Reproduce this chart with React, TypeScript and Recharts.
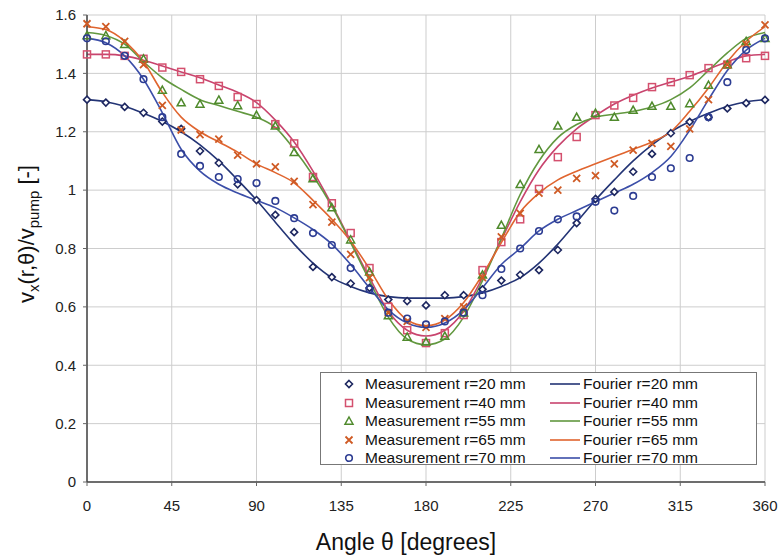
import React from 'react';
import { ComposedChart, Line, XAxis, YAxis, CartesianGrid, Legend } from 'recharts';

const font = '"Liberation Sans", Arial, sans-serif';

// angle in degrees, measurements every 10 deg
const angles = [0, 10, 20, 30, 40, 50, 60, 70, 80, 90, 100, 110, 120, 130, 140, 150, 160, 170, 180,
  190, 200, 210, 220, 230, 240, 250, 260, 270, 280, 290, 300, 310, 320, 330, 340, 350, 360];

const xTicks = [0, 45, 90, 135, 180, 225, 270, 315, 360];
const yTicks = [0, 0.2, 0.4, 0.6, 0.8, 1, 1.2, 1.4, 1.6];

// measured v/vpump
const meas20 = [1.31, 1.30, 1.285, 1.265, 1.235, 1.21, 1.134, 1.093, 1.02, 0.966, 0.915, 0.856, 0.737, 0.702, 0.68, 0.665, 0.625, 0.62, 0.605,
  0.64, 0.64, 0.66, 0.69, 0.71, 0.726, 0.795, 0.887, 0.97, 0.994, 1.063, 1.124, 1.195, 1.234, 1.25, 1.28, 1.298, 1.309];
const meas40 = [1.465, 1.465, 1.46, 1.45, 1.42, 1.405, 1.38, 1.357, 1.319, 1.295, 1.226, 1.16, 1.045, 0.955, 0.853, 0.733, 0.60, 0.52, 0.476,
  0.51, 0.572, 0.726, 0.822, 0.90, 1.004, 1.113, 1.182, 1.257, 1.29, 1.316, 1.353, 1.37, 1.394, 1.418, 1.43, 1.452, 1.46];
const meas55 = [1.53, 1.53, 1.50, 1.45, 1.343, 1.30, 1.295, 1.309, 1.29, 1.257, 1.22, 1.13, 1.04, 0.94, 0.83, 0.72, 0.57, 0.497, 0.48,
  0.50, 0.58, 0.71, 0.88, 1.02, 1.14, 1.22, 1.25, 1.264, 1.25, 1.274, 1.288, 1.288, 1.297, 1.36, 1.43, 1.51, 1.52];
const meas65 = [1.57, 1.56, 1.51, 1.43, 1.29, 1.206, 1.19, 1.175, 1.12, 1.09, 1.08, 1.03, 0.95, 0.89, 0.78, 0.70, 0.58, 0.55, 0.53,
  0.56, 0.60, 0.70, 0.84, 0.92, 0.99, 1.0, 1.04, 1.05, 1.09, 1.137, 1.16, 1.15, 1.21, 1.31, 1.43, 1.50, 1.566];
const meas70 = [1.52, 1.51, 1.46, 1.38, 1.25, 1.124, 1.083, 1.045, 1.038, 1.024, 0.963, 0.904, 0.853, 0.812, 0.733, 0.66, 0.58, 0.56, 0.54,
  0.55, 0.58, 0.64, 0.73, 0.80, 0.86, 0.90, 0.91, 0.96, 0.93, 0.98, 1.045, 1.075, 1.11, 1.25, 1.37, 1.48, 1.52];

// fourier fit
const fourier20 = [1.31, 1.303, 1.287, 1.263, 1.235, 1.20, 1.155, 1.10, 1.035, 0.966, 0.89, 0.815, 0.75, 0.70, 0.67, 0.648, 0.635, 0.63, 0.63,
  0.63, 0.635, 0.648, 0.67, 0.70, 0.75, 0.815, 0.89, 0.966, 1.035, 1.10, 1.155, 1.20, 1.235, 1.263, 1.287, 1.303, 1.31];
const fourier40 = [1.465, 1.465, 1.46, 1.445, 1.425, 1.405, 1.385, 1.36, 1.335, 1.30, 1.24, 1.165, 1.065, 0.95, 0.825, 0.70, 0.585, 0.52, 0.50,
  0.52, 0.585, 0.70, 0.83, 0.96, 1.07, 1.15, 1.21, 1.255, 1.295, 1.325, 1.35, 1.37, 1.39, 1.415, 1.44, 1.46, 1.465];
const fourier55 = [1.54, 1.53, 1.50, 1.44, 1.385, 1.345, 1.31, 1.29, 1.27, 1.25, 1.215, 1.14, 1.05, 0.945, 0.82, 0.69, 0.565, 0.49, 0.47,
  0.49, 0.565, 0.69, 0.835, 0.985, 1.10, 1.18, 1.225, 1.25, 1.26, 1.27, 1.285, 1.31, 1.35, 1.41, 1.47, 1.52, 1.54];
const fourier65 = [1.56, 1.55, 1.51, 1.44, 1.335, 1.25, 1.20, 1.165, 1.13, 1.09, 1.06, 1.025, 0.965, 0.90, 0.825, 0.73, 0.625, 0.555, 0.535,
  0.555, 0.615, 0.71, 0.82, 0.925, 0.99, 1.035, 1.065, 1.09, 1.115, 1.14, 1.165, 1.20, 1.27, 1.35, 1.44, 1.51, 1.56];
const fourier70 = [1.52, 1.505, 1.46, 1.38, 1.265, 1.14, 1.065, 1.02, 0.99, 0.965, 0.94, 0.905, 0.865, 0.815, 0.745, 0.665, 0.59, 0.545, 0.53,
  0.545, 0.59, 0.665, 0.745, 0.80, 0.86, 0.90, 0.93, 0.96, 0.99, 1.02, 1.06, 1.115, 1.205, 1.31, 1.41, 1.48, 1.52];

const data = angles.map((a, i) => ({
  theta: a,
  m20: meas20[i], m40: meas40[i], m55: meas55[i], m65: meas65[i], m70: meas70[i],
  f20: fourier20[i], f40: fourier40[i], f55: fourier55[i], f65: fourier65[i], f70: fourier70[i],
}));

type MarkerKind = 'diamond' | 'square' | 'triangle' | 'cross' | 'circle';

const series = [
  { r: 20, m: 'm20', f: 'f20', marker: 'diamond' as MarkerKind, mColor: '#1d2760', lColor: '#233475' },
  { r: 40, m: 'm40', f: 'f40', marker: 'square' as MarkerKind, mColor: '#d4506e', lColor: '#c8446e' },
  { r: 55, m: 'm55', f: 'f55', marker: 'triangle' as MarkerKind, mColor: '#4f8a2c', lColor: '#62983f' },
  { r: 65, m: 'm65', f: 'f65', marker: 'cross' as MarkerKind, mColor: '#cf5a24', lColor: '#e0652f' },
  { r: 70, m: 'm70', f: 'f70', marker: 'circle' as MarkerKind, mColor: '#2c3c92', lColor: '#3b4ea8' },
];

const Marker = ({ kind, cx, cy, color }: { kind: MarkerKind; cx: number; cy: number; color: string }) => {
  const s = 3.5;
  if (kind === 'diamond')
    return <path d={`M${cx},${cy - s} L${cx + s},${cy} L${cx},${cy + s} L${cx - s},${cy} Z`} fill="#fff" stroke={color} strokeWidth={1.6} />;
  if (kind === 'square')
    return <rect x={cx - s} y={cy - s} width={s * 2} height={s * 2} fill="none" stroke={color} strokeWidth={1.5} />;
  if (kind === 'triangle')
    return <path d={`M${cx},${cy - 4} L${cx + 4},${cy + 3.2} L${cx - 4},${cy + 3.2} Z`} fill="none" stroke={color} strokeWidth={1.5} />;
  if (kind === 'cross')
    return <path d={`M${cx - s},${cy - s} L${cx + s},${cy + s} M${cx + s},${cy - s} L${cx - s},${cy + s}`} stroke={color} strokeWidth={1.8} />;
  return <circle cx={cx} cy={cy} r={3.3} fill="none" stroke={color} strokeWidth={1.6} />;
};

const LegendBox = () => (
  <div style={{ position: 'relative', width: 437, height: 93, border: '1px solid #777', background: '#fff', boxSizing: 'border-box', fontFamily: font, fontSize: 15.5, color: '#111' }}>
    {series.map((s, i) => {
      const top = 11 + i * 18.5;
      return (
        <React.Fragment key={s.r}>
          <svg style={{ position: 'absolute', left: 20, top: top - 8 }} width={16} height={16}>
            <Marker kind={s.marker} cx={8} cy={8} color={s.mColor} />
          </svg>
          <div style={{ position: 'absolute', left: 44, top: top - 9, lineHeight: '18px', whiteSpace: 'nowrap' }}>Measurement r={s.r} mm</div>
          <svg style={{ position: 'absolute', left: 229, top: top - 2 }} width={30} height={4}>
            <line x1={0} y1={2} x2={30} y2={2} stroke={s.lColor} strokeWidth={1.6} />
          </svg>
          <div style={{ position: 'absolute', left: 262, top: top - 9, lineHeight: '18px', whiteSpace: 'nowrap' }}>Fourier r={s.r} mm</div>
        </React.Fragment>
      );
    })}
  </div>
);

const XTitle = () => (
  <text x={406} y={550} textAnchor="middle" fontFamily={font} fontSize={23} fill="#111">Angle θ [degrees]</text>
);

const YTitle = () => (
  <text x={34} y={234} transform="rotate(-90, 34, 234)" textAnchor="middle" fontFamily={font} fontSize={22} fill="#111">
    v<tspan fontSize={15} dy={5}>x</tspan><tspan dy={-5}>(r,θ)/v</tspan><tspan fontSize={15} dy={5}>pump</tspan><tspan dy={-5}> [-]</tspan>
  </text>
);

const tickStyle = { fontSize: 15, fill: '#222', fontFamily: font };

export default function App() {
  return (
    <div style={{ position: 'absolute', left: 0, top: 0, width: 779, height: 556, background: '#fff' }}>
      <ComposedChart width={779} height={556} data={data} margin={{ top: 15, right: 14, bottom: 44, left: 27 }}>
        <CartesianGrid stroke="#cdcdcd" strokeWidth={1} />
        <XAxis dataKey="theta" type="number" domain={[0, 360]} ticks={xTicks} interval={0} height={30}
          tick={tickStyle} tickSize={4} tickMargin={14} axisLine={{ stroke: '#444', strokeWidth: 1.5 }}
          tickLine={{ stroke: '#666' }} label={{ content: XTitle }} />
        <XAxis xAxisId="top" orientation="top" type="number" domain={[0, 360]} height={0} tick={false} tickLine={false}
          axisLine={{ stroke: '#555', strokeWidth: 1.5 }} />
        <YAxis type="number" domain={[0, 1.6]} ticks={yTicks} interval={0} width={60} tick={tickStyle}
          tickSize={4} tickMargin={7} axisLine={{ stroke: '#444', strokeWidth: 1.5 }} tickLine={{ stroke: '#666' }}
          label={{ content: YTitle }} />
        <YAxis yAxisId="right" orientation="right" type="number" domain={[0, 1.6]} width={0} tick={false} tickLine={false}
          axisLine={{ stroke: '#555', strokeWidth: 1.5 }} />
        {series.map((s) => (
          <Line key={s.f} dataKey={s.f} type="monotone" stroke={s.lColor} strokeWidth={1.6} dot={false}
            isAnimationActive={false} />
        ))}
        {series.map((s) => (
          <Line key={s.m} dataKey={s.m} stroke="none" isAnimationActive={false}
            dot={(p: any) => <Marker key={`${s.m}-${p.index}`} kind={s.marker} cx={p.cx} cy={p.cy} color={s.mColor} />} />
        ))}
        <Legend layout="vertical" align="center" verticalAlign="middle" content={LegendBox}
          wrapperStyle={{ position: 'absolute', left: 320, top: 372, width: 437, height: 93 }} />
      </ComposedChart>
    </div>
  );
}
